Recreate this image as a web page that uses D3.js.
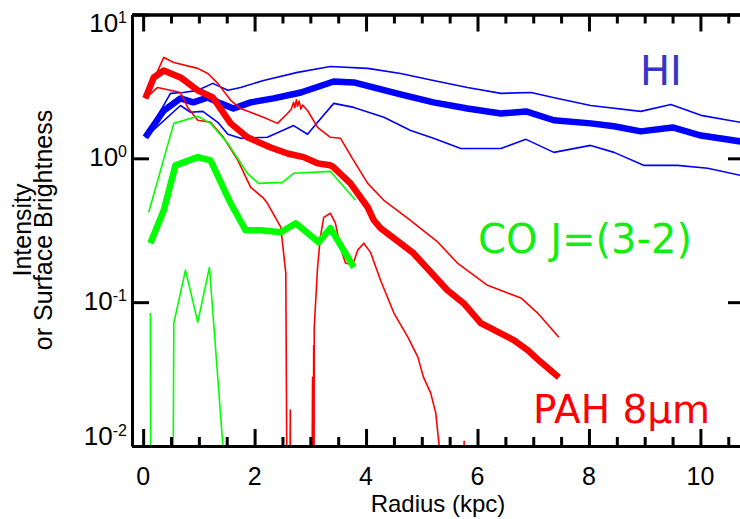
<!DOCTYPE html>
<html>
<head>
<meta charset="utf-8">
<script src="https://cdn.jsdelivr.net/npm/d3@7"></script>
<style>
body { margin: 0; background: #fff; }
</style>
</head>
<body>
<div id="graph"></div>
<script>
WIDTH = 740;
HEIGHT = 519;

// radius (kpc), value
var hiMid = [[0.04,1.40],[0.37,2.15],[0.67,2.61],[0.90,2.45],[1.16,2.65],[1.39,2.41],[1.62,2.22],[1.93,2.45],[2.34,2.61],[2.83,2.87],[3.42,3.42],[3.78,3.37],[4.20,3.06],[4.62,2.78],[5.21,2.45],[5.82,2.22],[6.42,2.05],[6.87,2.12],[7.37,1.84],[8.03,1.75],[8.45,1.67],[8.93,1.54],[9.50,1.64],[10.01,1.44],[10.72,1.31],[10.9,1.28]];
var hiHigh = [[0.04,1.40],[0.49,2.83],[0.72,2.87],[0.98,2.97],[1.25,3.32],[1.52,2.97],[1.75,3.11],[2.16,3.48],[2.77,3.96],[3.36,4.35],[4.03,4.22],[4.62,3.89],[5.21,3.48],[5.82,3.11],[6.42,2.83],[6.96,2.87],[7.44,2.61],[8.03,2.33],[8.93,2.12],[9.47,2.37],[10.01,1.99],[10.72,1.78],[10.9,1.75]];
var hiLow = [[0.04,1.40],[0.67,2.33],[0.85,2.09],[1.07,2.12],[1.34,1.78],[1.52,1.47],[1.75,1.38],[2.23,1.40],[2.70,1.69],[2.95,1.47],[3.13,1.78],[3.42,2.41],[3.78,2.26],[4.32,1.93],[4.80,1.56],[5.21,1.38],[5.70,1.17],[6.42,1.17],[6.87,1.355],[7.37,1.10],[8.03,1.23],[8.45,1.10],[8.98,0.894],[9.59,0.894],[10.13,0.853],[10.72,0.762],[10.9,0.75]];

var pahMid = [[0.04,2.61],[0.19,3.65],[0.37,4.08],[0.67,3.65],[0.98,2.97],[1.25,2.65],[1.57,1.75],[1.87,1.40],[2.29,1.19],[2.59,1.08],[2.88,1.02],[3.13,0.923],[3.36,0.894],[3.42,0.866],[3.72,0.670],[4.03,0.457],[4.14,0.371],[4.26,0.327],[4.85,0.219],[5.46,0.121],[5.75,0.0984],[6.06,0.0715],[6.65,0.0545],[6.90,0.0464],[7.13,0.0385],[7.46,0.0300]];
var pahHigh = [[0.04,2.61],[0.37,5.03],[0.55,4.64],[0.98,4.22],[1.16,3.89],[1.34,3.32],[1.57,2.53],[1.75,2.22],[2.16,1.93],[2.41,1.75],[2.59,2.05],[2.66,2.2],[2.70,2.45],[2.72,2.25],[2.75,2.55],[2.77,2.3],[2.80,2.5],[2.83,2.2],[2.86,2.35],[2.95,2.15],[3.13,1.64],[3.36,1.40],[3.54,1.38],[3.74,1.02],[4.03,0.670],[4.32,0.511],[4.75,0.383],[5.29,0.261],[5.64,0.187],[6.18,0.131],[6.78,0.107],[7.08,0.084],[7.46,0.0571]];
var pahLow = [[0.04,2.61],[0.26,3.11],[0.67,2.87],[0.80,2.26],[0.98,1.84],[1.21,1.78],[1.44,1.40],[1.70,0.968],[1.93,0.629],[2.16,0.528],[2.23,0.487],[2.47,0.332],[2.56,0.159],[2.59,0.001],[2.63,0.001],[2.64,0.0178],[2.65,0.001],[3.02,0.001],[3.04,0.03],[3.05,0.001],[3.06,0.05],[3.065,0.001],[3.07,0.067],[3.13,0.175],[3.18,0.283],[3.24,0.389],[3.36,0.415],[3.45,0.354],[3.54,0.241],[3.63,0.187],[3.76,0.181],[3.85,0.230],[3.96,0.257],[4.08,0.222],[4.26,0.142],[4.50,0.084],[4.75,0.0571],[4.93,0.0415],[5.03,0.0301],[5.16,0.0233],[5.25,0.0170],[5.31,0.0102],[5.34,0.001],[5.74,0.001],[5.76,0.0108],[5.78,0.001]];

var coMid = [[0.13,0.257],[0.37,0.435],[0.58,0.894],[0.98,1.02],[1.21,0.968],[1.57,0.487],[1.84,0.316],[2.11,0.316],[2.47,0.306],[2.74,0.354],[3.15,0.261],[3.36,0.327],[3.78,0.175]];
var coHigh = [[0.10,0.422],[0.55,1.75],[0.98,1.96],[1.21,1.75],[1.52,1.27],[1.87,0.787],[2.07,0.670],[2.50,0.681],[2.70,0.787],[3.36,0.812],[3.81,0.511]];
var coLow = [[0.13,0.084],[0.14,0.001],[0.53,0.001],[0.55,0.0715],[0.76,0.167],[0.98,0.0726],[1.19,0.175],[1.44,0.009]];

var xMajor = [0, 2, 4, 6, 8, 10];
var xMinor = [0.5, 1, 1.5, 2.5, 3, 3.5, 4.5, 5, 5.5, 6.5, 7, 7.5, 8.5, 9, 9.5, 10.5];
var yMajor = [0.01, 0.1, 1, 10];
var yExp = ["-2", "-1", "0", "1"];

var x = d3.scaleLinear().domain([-0.2, 10.8]).range([132, 745]);
var y = d3.scaleLog().domain([0.01, 10]).range([446, 14.5]);

var svg = d3.select("#graph").append("svg")
	.attr("width", WIDTH).attr("height", HEIGHT)
	.style("font-family", "'Liberation Sans', Arial, sans-serif");

svg.append("clipPath").attr("id", "plot")
	.append("rect")
	.attr("x", x.range()[0]).attr("y", y.range()[1])
	.attr("width", x.range()[1] - x.range()[0])
	.attr("height", y.range()[0] - y.range()[1]);

var lineg = svg.append("g").attr("clip-path", "url(#plot)");
var line = d3.line().x(function(d) { return x(d[0]); }).y(function(d) { return y(d[1]); });

var curves = [
	{ d: hiHigh, c: "#0000ff", w: 1.6 },
	{ d: hiLow, c: "#0000ff", w: 1.6 },
	{ d: hiMid, c: "#0000ff", w: 6.5 },
	{ d: pahHigh, c: "#ff0000", w: 1.6 },
	{ d: pahLow, c: "#ff0000", w: 1.6 },
	{ d: pahMid, c: "#ff0000", w: 6.5 },
	{ d: coHigh, c: "#00ff00", w: 1.6 },
	{ d: coLow, c: "#00ff00", w: 1.6 },
	{ d: coMid, c: "#00ff00", w: 6.5 }
];

lineg.selectAll("path")
	.data(curves)
	.enter()
	.append("path")
	.attr("d", function(d) { return line(d.d); })
	.attr("fill", "none")
	.attr("stroke", function(d) { return d.c; })
	.attr("stroke-width", function(d) { return d.w; })
	.attr("stroke-linejoin", "round");

// axes: ticks point inward
var axg = svg.append("g");
function styleAxis(g) {
	g.selectAll("path.domain").attr("stroke", "#000").attr("stroke-width", 3);
	g.selectAll("line").attr("stroke", "#000").attr("stroke-width", 3);
	g.selectAll("text").remove();
}
axg.append("g").attr("transform", "translate(0," + y.range()[0] + ")")
	.call(d3.axisBottom(x).tickValues(xMajor).tickSize(-17).tickSizeOuter(0)).call(styleAxis);
axg.append("g").attr("transform", "translate(0," + y.range()[0] + ")")
	.call(d3.axisBottom(x).tickValues(xMinor).tickSize(-9).tickSizeOuter(0)).call(styleAxis);
axg.append("g").attr("transform", "translate(0," + y.range()[1] + ")")
	.call(d3.axisTop(x).tickValues(xMajor).tickSize(-17).tickSizeOuter(0)).call(styleAxis);
axg.append("g").attr("transform", "translate(0," + y.range()[1] + ")")
	.call(d3.axisTop(x).tickValues(xMinor).tickSize(-9).tickSizeOuter(0)).call(styleAxis);
axg.append("g").attr("transform", "translate(" + x.range()[0] + ",0)")
	.call(d3.axisLeft(y).tickValues(yMajor).tickSize(-17).tickSizeOuter(0)).call(styleAxis);
axg.append("g").attr("transform", "translate(" + x.range()[1] + ",0)")
	.call(d3.axisRight(y).tickValues(yMajor).tickSize(-17).tickSizeOuter(0)).call(styleAxis);

// tick labels
svg.append("g").selectAll("text")
	.data(xMajor).enter().append("text")
	.attr("x", function(d) { return x(d); })
	.attr("y", 485)
	.attr("text-anchor", "middle")
	.attr("font-size", 25)
	.text(function(d) { return d; });

var ylab = svg.append("g").selectAll("text")
	.data(yMajor).enter().append("text")
	.attr("x", 127)
	.attr("y", function(d) { return Math.max(32, Math.min(445, y(d) + 8)); })
	.attr("text-anchor", "end")
	.attr("font-size", 26);
ylab.append("tspan").text("10");
ylab.append("tspan").attr("dy", -9).attr("font-size", 16).text(function(d, i) { return yExp[i]; });

// axis titles
svg.append("text")
	.attr("x", 438).attr("y", 512)
	.attr("text-anchor", "middle")
	.attr("font-size", 24)
	.text("Radius (kpc)");
svg.append("text")
	.attr("transform", "translate(31,230) rotate(-90)")
	.attr("text-anchor", "middle")
	.attr("font-size", 25)
	.text("Intensity");
svg.append("text")
	.attr("transform", "translate(52,230) rotate(-90)")
	.attr("text-anchor", "middle")
	.attr("font-size", 25)
	.text("or Surface Brightness");

// series labels
var labels = [
	{ t: "HI", x: 640, y: 85, c: "#3535c8" },
	{ t: "CO J=(3-2)", x: 478, y: 253, c: "#11ee11" },
	{ t: "PAH 8\u00b5m", x: 533, y: 423, c: "#ff0000" }
];
svg.append("g").selectAll("text")
	.data(labels).enter().append("text")
	.attr("x", function(d) { return d.x; })
	.attr("y", function(d) { return d.y; })
	.attr("fill", function(d) { return d.c; })
	.attr("font-family", "'DejaVu Sans', Verdana, sans-serif")
	.attr("font-size", function(d, i) { return i == 2 ? 39 : 40; })
	.text(function(d) { return d.t; });
</script>
</body>
</html>
